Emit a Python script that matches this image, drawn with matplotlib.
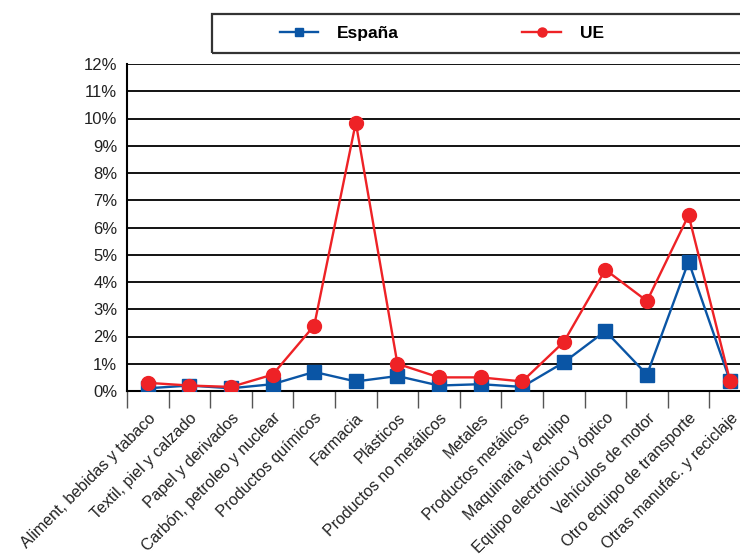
import matplotlib
matplotlib.use('Agg')
import matplotlib.pyplot as plt
from matplotlib.patches import Rectangle
from matplotlib.ticker import FixedLocator, FuncFormatter

plt.rcParams['font.family'] = ['Liberation Sans', 'DejaVu Sans']

categorias = ['Aliment, bebidas y tabaco', 'Textil, piel y calzado', 'Papel y derivados',
              'Carbón, petroleo y nuclear', 'Productos químicos', 'Farmacia', 'Plásticos',
              'Productos no metálicos', 'Metales', 'Productos metálicos',
              'Maquinaria y equipo', 'Equipo electrónico y óptico', 'Vehículos de motor',
              'Otro equipo de transporte', 'Otras manufac. y reciclaje']
espana = [0.1, 0.2, 0.1, 0.25, 0.7, 0.35, 0.55, 0.2, 0.25, 0.15, 1.05, 2.2, 0.6, 4.75, 0.35]
ue = [0.3, 0.2, 0.15, 0.6, 2.4, 9.85, 1.0, 0.5, 0.5, 0.35, 1.8, 4.45, 3.3, 6.45, 0.35]

fig = plt.figure(figsize=(7.4, 5.6), dpi=100)
ax = fig.add_axes([127/740, 169/560, 624/740, 327/560])

x = list(range(len(categorias)))
ax.plot(x, espana, '-s', color='#0a55a5', lw=1.7, ms=9.5, label='España', zorder=3)
ax.plot(x, ue, '-o', color='#ee2226', lw=1.7, ms=10, label='UE', zorder=4)

ax.set_xlim(-0.5, len(categorias) - 0.5)
ax.set_ylim(0, 12)
ax.set_yticks(range(0, 13))
ax.yaxis.set_major_formatter(FuncFormatter(lambda v, p: '%d%%' % v))
ax.tick_params(axis='y', length=0, labelsize=12, pad=7, labelcolor='#222222')
ax.grid(axis='y', color='black', lw=1.3)
ax.set_axisbelow(True)

ax.xaxis.set_major_locator(FixedLocator([i - 0.5 for i in x]))
ax.xaxis.set_major_formatter(FuncFormatter(lambda v, p: ''))
ax.xaxis.set_minor_locator(FixedLocator(x))
ax.set_xticklabels(categorias, minor=True, rotation=45, ha='right',
                   rotation_mode='anchor', fontsize=11.5, color='#222222')
ax.tick_params(axis='x', which='major', length=12, width=1, color='#555555', direction='out')
ax.tick_params(axis='x', which='minor', length=0, pad=14)

for s in ['top', 'right']:
    ax.spines[s].set_visible(False)
ax.spines['left'].set_linewidth(1.5)
ax.spines['bottom'].set_linewidth(1.5)

# legend box runs off the right edge like in the original
fig.patches.append(Rectangle((212/740, 1 - 53/560), 560/740, 39/560, transform=fig.transFigure,
                             fill=False, edgecolor='#333333', lw=1.6))
leg = fig.legend(loc='center left', bbox_to_anchor=(280/740, 1 - 33.5/560), ncol=2,
                 prop={'weight': 'bold', 'size': 12.5}, frameon=False,
                 columnspacing=7.1, handlelength=2.2, handletextpad=1.1,
                 borderpad=0, borderaxespad=0, markerscale=0.65)

fig.savefig('out.png', dpi=100)
